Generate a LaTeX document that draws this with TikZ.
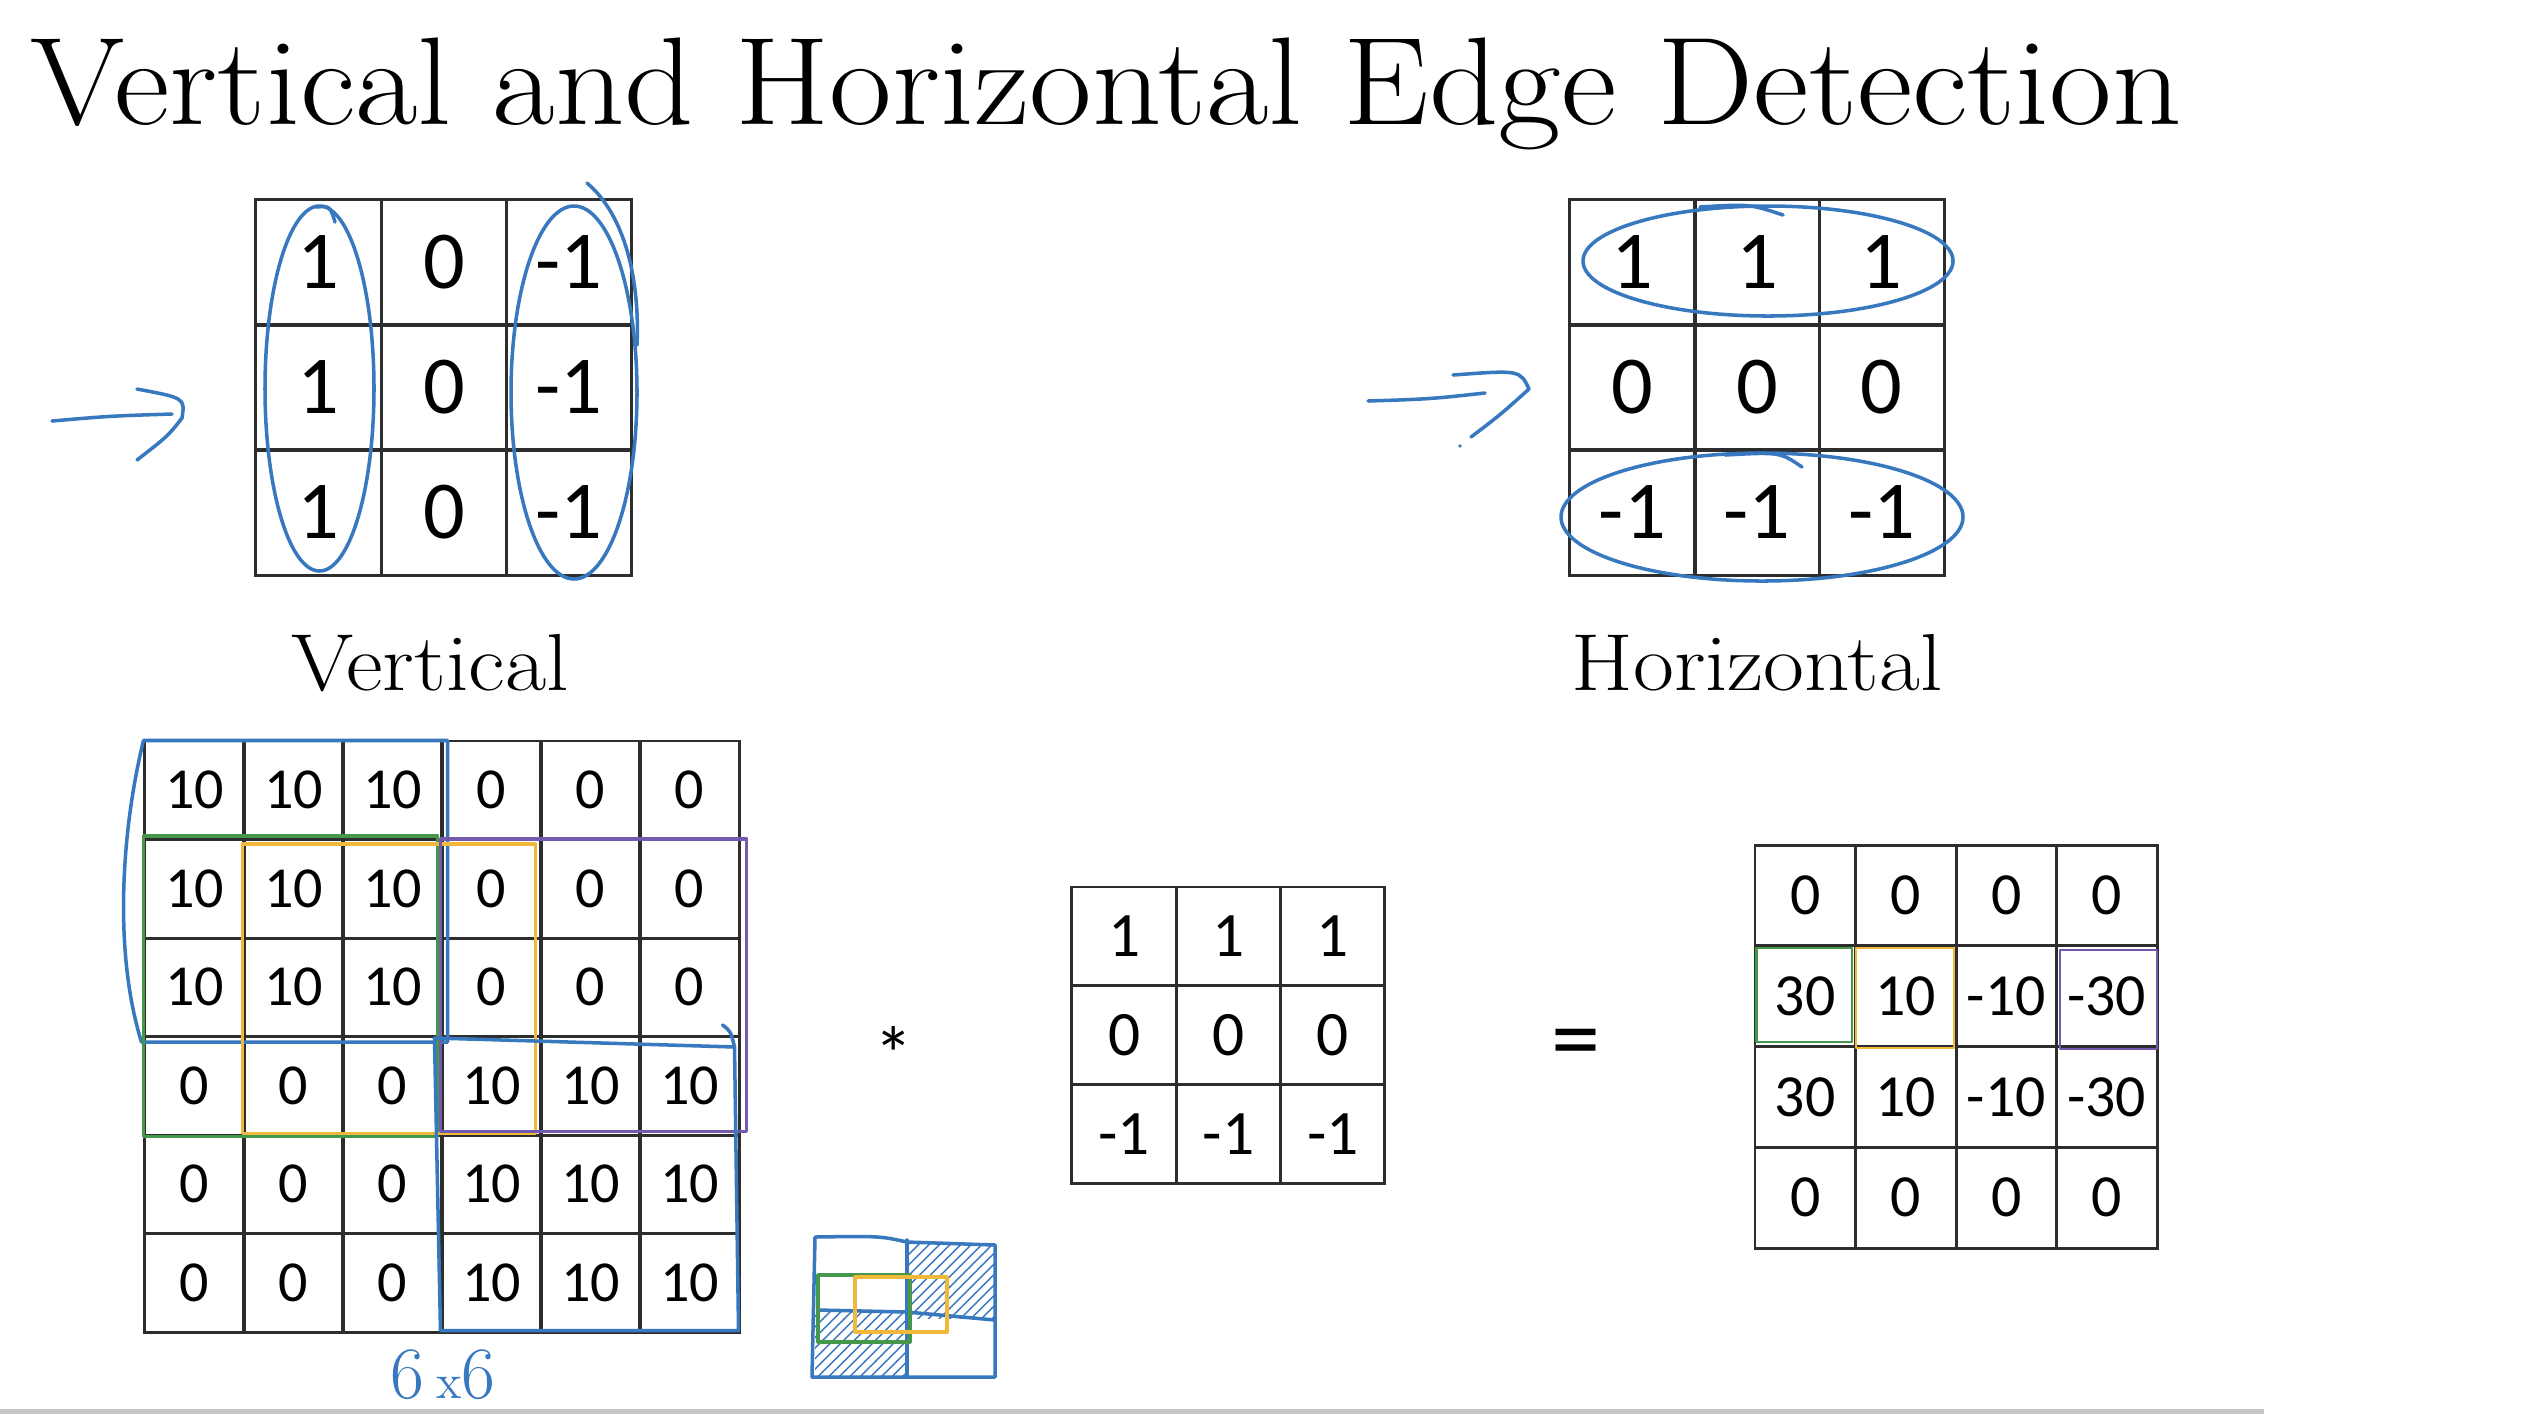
\documentclass[tikz,border=0pt]{standalone}
\usepackage{fontspec}
\usepackage{graphicx}
\newfontfamily\numfont{Carlito}
\usetikzlibrary{calc,positioning,patterns}

\definecolor{gridgray}{RGB}{45,45,45}
\definecolor{penblue}{RGB}{55,120,190}
\definecolor{pengreen}{RGB}{70,150,75}
\definecolor{penorange}{RGB}{240,185,60}
\definecolor{penpurple}{RGB}{115,90,175}

\newcommand{\widetext}[2]{\scalebox{#1}[1]{#2}}

\begin{document}
\begin{tikzpicture}[x=0.01cm, y=-0.01cm]
      \tikzstyle{cell} = [draw=gridgray, line width=0.85pt, rectangle, inner sep=0pt]
      \tikzstyle{bigcell} = [cell, minimum width=1.253cm, minimum height=1.25cm, font=\numfont\fontsize{23.4}{26}\selectfont]
      \tikzstyle{imgcell} = [cell, minimum width=0.99cm, minimum height=0.985cm, font=\numfont\fontsize{16.5}{18}\selectfont]
      \tikzstyle{kercell} = [cell, minimum width=1.043cm, minimum height=0.987cm, font=\numfont\fontsize{18}{20}\selectfont]
      \tikzstyle{outcell} = [cell, minimum width=1.005cm, minimum height=1.007cm, font=\numfont\fontsize{17}{19}\selectfont]
      \tikzstyle{lbl} = [inner sep=0pt, anchor=base, font=\fontsize{23}{26}\selectfont]
      \tikzstyle{pen} = [draw=penblue, line width=1pt, line cap=round, line join=round]
      \tikzstyle{gpen} = [pen, draw=pengreen, line width=0.9pt]
      \tikzstyle{open} = [pen, draw=penorange, line width=0.9pt]
      \tikzstyle{ppen} = [pen, draw=penpurple, line width=0.9pt]

      \useasboundingbox (0,0) rectangle (2534,1414);
      \fill[white] (0,0) rectangle (2534,1414);
      \fill[gray!45] (0,1409) rectangle (2264,1414);

      \node[inner sep=0pt, anchor=base west, font=\fontsize{35.5}{40}\selectfont] (title) at (30,124) {\widetext{1.09}{Vertical and Horizontal Edge Detection}};

      % the two 3x3 filters
      \foreach \row [count=\ri] in {{1,0,-1},{1,0,-1},{1,0,-1}}
        \foreach \v [count=\ci] in \row
          \node[bigcell] (vf\ri\ci) at ({256+125.3*(\ci-0.5)}, {200+125*(\ri-0.5)}) {\v};
      \foreach \row [count=\ri] in {{1,1,1},{0,0,0},{-1,-1,-1}}
        \foreach \v [count=\ci] in \row
          \node[bigcell] (hf\ri\ci) at ({1570+124.7*(\ci-0.5)}, {200+125*(\ri-0.5)}) {\v};

      \node[lbl] (vlabel) at (430,690) {\widetext{1.11}{Vertical}};
      \node[lbl] (hlabel) at (1757,690) {\widetext{1.1}{Horizontal}};

      % strokes round the columns and rows
      \draw[pen] (319.5,388.5) ellipse [x radius=54.5, y radius=182.5];
      \draw[pen] (316,207) .. controls (330,206) .. (335,222);
      \draw[pen] (574,392.5) ellipse [x radius=63, y radius=186.5];
      \draw[pen] (587,183) .. controls (625,215) and (640,280) .. (637,345);
      \draw[pen] (1768,261) ellipse [x radius=185, y radius=55];
      \draw[pen] (1700,207) .. controls (1750,204) .. (1783,215);
      \draw[pen] (1762,517) ellipse [x radius=201, y radius=64];
      \draw[pen] (1725,455) .. controls (1780,452) .. (1802,467);

      % arrows
      \coordinate (vtail) at (52,421);
      \coordinate (vtip) at (182,418);
      \draw[pen] (vtail) .. controls (110,416) .. (172,414);
      \draw[pen] (137,389) .. controls (185,398) .. (vtip) .. controls (168,436) .. (137,460);
      \coordinate (htail) at (1368,401);
      \coordinate (htip) at (1529,389);
      \draw[pen] (htail) .. controls (1430,399) .. (1485,393);
      \draw[pen] (1453,375) .. controls (1520,370) .. (htip) .. controls (1500,415) .. (1471,437);
      \fill[penblue] (1460,446) circle (1.8);

      % 6x6 image
      \foreach \row [count=\ri] in {{10,10,10,0,0,0},{10,10,10,0,0,0},{10,10,10,0,0,0},{0,0,0,10,10,10},{0,0,0,10,10,10},{0,0,0,10,10,10}}
        \foreach \v [count=\ci] in \row
          \node[imgcell] (img\ri\ci) at ({145+99*(\ci-0.5)}, {741+98.5*(\ri-0.5)}) {\v};

      \draw[pen] ([shift={(0,1)}]img11.north west) -- ([shift={(4,1)}]img13.north east) -- ([shift={(4,4)}]img33.south east) -- ([shift={(-2,4)}]img31.south west) .. controls +(-28,-90) and +(-22,90) .. ([shift={(0,1)}]img11.north west);
      \draw[gpen] ([shift={(0,-2)}]img21.north west) rectangle ([shift={(-6,0)}]img43.south east);
      \draw[open] ([shift={(0,6)}]img22.north west) rectangle ([shift={(-7,-3)}]img44.south east);
      \draw[ppen] ([shift={(0,1)}]img24.north west) rectangle ([shift={(6,-5)}]img46.south east);
      \draw[pen] ([shift={(-18,-10)}]img46.north east) .. controls +(8,6) .. ([shift={(-6,12)}]img46.north east) -- ([shift={(-2,-3)}]img66.south east) -- ([shift={(0,-3)}]img64.south west) -- ([shift={(-6,3)}]img44.north west) -- ([shift={(-6,12)}]img46.north east);

      \node[text=penblue, inner sep=0pt, font=\fontsize{21}{24}\selectfont] (dims) at (443,1375) {6\,{\fontsize{14}{16}\selectfont x}6};

      % small sketch
      \fill[pattern=north east lines, pattern color=penblue] (907,1243) rectangle (995,1318);
      \fill[pattern=north east lines, pattern color=penblue] (815,1310) rectangle (907,1377);
      \draw[pen] (815,1237) .. controls (880,1236) .. (907,1242) -- (995,1245) -- (995,1377) -- (812,1377) -- cycle;
      \draw[pen] (907,1240) -- (907,1377);
      \draw[pen] (818,1310) -- (907,1312) -- (995,1320);
      \draw[gpen] (818,1275) rectangle (910,1342);
      \draw[open] (855,1277) rectangle (947,1332);

      \node[inner sep=0pt, font=\numfont\fontsize{22}{24}\selectfont] (conv) at (894,1054) {*};

      % kernel
      \foreach \row [count=\ri] in {{1,1,1},{0,0,0},{-1,-1,-1}}
        \foreach \v [count=\ci] in \row
          \node[kercell] (ker\ri\ci) at ({1072+104.3*(\ci-0.5)}, {887+98.7*(\ri-0.5)}) {\v};

      \node[inner sep=0pt, font=\numfont\fontsize{28}{30}\selectfont] (eq) at (1576,1050) {=};

      % 4x4 result
      \foreach \row [count=\ri] in {{0,0,0,0},{30,10,-10,-30},{30,10,-10,-30},{0,0,0,0}}
        \foreach \v [count=\ci] in \row
          \node[outcell] (out\ri\ci) at ({1755+100.5*(\ci-0.5)}, {845+100.75*(\ri-0.5)}) {\v};

      \draw[gpen, line width=0.6pt] ([shift={(3,4)}]out21.north west) rectangle ([shift={(-5,-6)}]out21.south east);
      \draw[open, line width=0.6pt] ([shift={(2,4)}]out22.north west) rectangle ([shift={(-4,0)}]out22.south east);
      \draw[ppen, line width=0.6pt] ([shift={(5,6)}]out24.north west) rectangle ([shift={(-2,1)}]out24.south east);
    \end{tikzpicture}
\end{document}
